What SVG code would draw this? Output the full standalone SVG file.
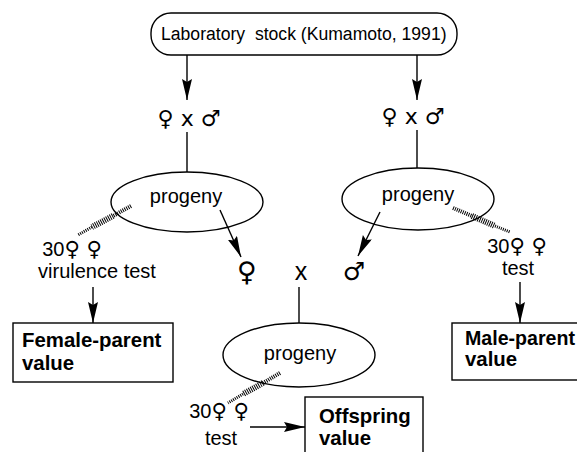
<svg xmlns="http://www.w3.org/2000/svg" width="577" height="452" viewBox="0 0 577 452">
<defs>
<marker id="ah" markerUnits="userSpaceOnUse" markerWidth="22" markerHeight="11" refX="21" refY="5" orient="auto">
<path d="M0,0 L21,5 L0,10 L3,5 z" fill="#000"/>
</marker>
<style>
text{font-family:"Liberation Sans",Arial,sans-serif;fill:#000}
.t{font-size:20px;text-anchor:middle}
.top{font-size:17.6px}
.b{font-size:20.4px;font-weight:bold}
.sym{font-family:"DejaVu Sans",sans-serif;text-anchor:middle}
.ln{stroke:#000;stroke-width:1.4;fill:none}
.ar{stroke:#000;stroke-width:1.4;fill:none;marker-end:url(#ah)}
.hatch{stroke:#000;stroke-dasharray:1 1.1;fill:none}
.shape{fill:#fff;stroke:#000;stroke-width:1.4}
</style>
</defs>
<rect width="577" height="452" fill="#fff"/>
<g id="stock">
<rect class="shape" x="151" y="13" width="306" height="42" rx="20"/>
<text class="top" x="161" y="40" xml:space="preserve">Laboratory  stock (Kumamoto, 1991)</text>
</g>
<g id="cross-left">
<text class="sym" x="189" y="126" style="font-size:22px">♀ x ♂</text>
</g>
<g id="cross-right">
<text class="sym" x="413" y="124" style="font-size:22px">♀ x ♂</text>
</g>
<g id="progeny-left">
<ellipse class="shape" cx="187" cy="202" rx="76" ry="30"/>
<text class="t" x="186" y="203">progeny</text>
</g>
<g id="progeny-right">
<ellipse class="shape" cx="418" cy="199" rx="76" ry="31"/>
<text class="t" x="418" y="201">progeny</text>
</g>
<g id="test-left">
<text class="t" x="72" y="256">30<tspan font-family="DejaVu Sans" style="font-size:21px">♀ ♀</tspan></text>
<text class="t" x="97" y="278">virulence test</text>
</g>
<g id="test-right">
<text class="t" x="517" y="253">30<tspan font-family="DejaVu Sans" style="font-size:21px">♀ ♀</tspan></text>
<text class="t" x="518" y="275">test</text>
</g>
<g id="female">
<text class="sym" x="247" y="281" style="font-size:27px">♀</text>
</g>
<g id="cross-mid">
<text class="t" x="301" y="280" style="font-size:25px">x</text>
</g>
<g id="male">
<text class="sym" x="354" y="280" style="font-size:25px">♂</text>
</g>
<g id="progeny-mid">
<ellipse class="shape" cx="299" cy="355" rx="76" ry="32"/>
<text class="t" x="300" y="360">progeny</text>
</g>
<g id="test-mid">
<text class="t" x="219" y="418">30<tspan font-family="DejaVu Sans" style="font-size:21px">♀ ♀</tspan></text>
<text class="t" x="221" y="445">test</text>
</g>
<g id="female-parent">
<rect class="shape" x="13" y="323" width="160" height="59"/>
<text class="b" x="22" y="347">Female-parent</text>
<text class="b" x="22" y="370">value</text>
</g>
<g id="male-parent">
<rect class="shape" x="452" y="323" width="140" height="57"/>
<text class="b" x="465" y="345" style="font-size:19.6px">Male-parent</text>
<text class="b" x="465" y="366">value</text>
</g>
<g id="offspring">
<rect class="shape" x="305" y="397" width="118" height="70"/>
<text class="b" x="319" y="423">Offspring</text>
<text class="b" x="319" y="445">value</text>
</g>
<g id="connectors">
<line class="ar" x1="187" y1="55" x2="187" y2="100"/>
<line class="ar" x1="417" y1="55" x2="417" y2="100"/>
<line class="ln" x1="187" y1="132" x2="187" y2="172"/>
<line class="ln" x1="417" y1="130" x2="417" y2="168"/>
<line class="ln" x1="299" y1="287" x2="299" y2="323"/>
<line class="ar" x1="220" y1="210" x2="241" y2="257"/>
<line class="ar" x1="380" y1="212" x2="358" y2="256"/>
<line class="ar" x1="93" y1="287" x2="93" y2="323"/>
<line class="ar" x1="520" y1="282" x2="520" y2="323"/>
<line class="ar" x1="250" y1="427" x2="305" y2="427"/>
<path class="hatch" stroke-width="4" d="M131,206 L113,216"/>
<path class="hatch" stroke-width="6" d="M113,216 L92,227"/>
<path class="hatch" stroke-width="3" d="M92,227 L78,235"/>
<path class="hatch" stroke-width="4" d="M453,208 L472,216"/>
<path class="hatch" stroke-width="6" d="M472,216 L495,226"/>
<path class="hatch" stroke-width="3" d="M495,226 L510,232"/>
<path class="hatch" stroke-width="4" d="M280,373 L263,383"/>
<path class="hatch" stroke-width="6" d="M263,383 L243,394"/>
<path class="hatch" stroke-width="3" d="M243,394 L228,403"/>
</g>
</svg>
